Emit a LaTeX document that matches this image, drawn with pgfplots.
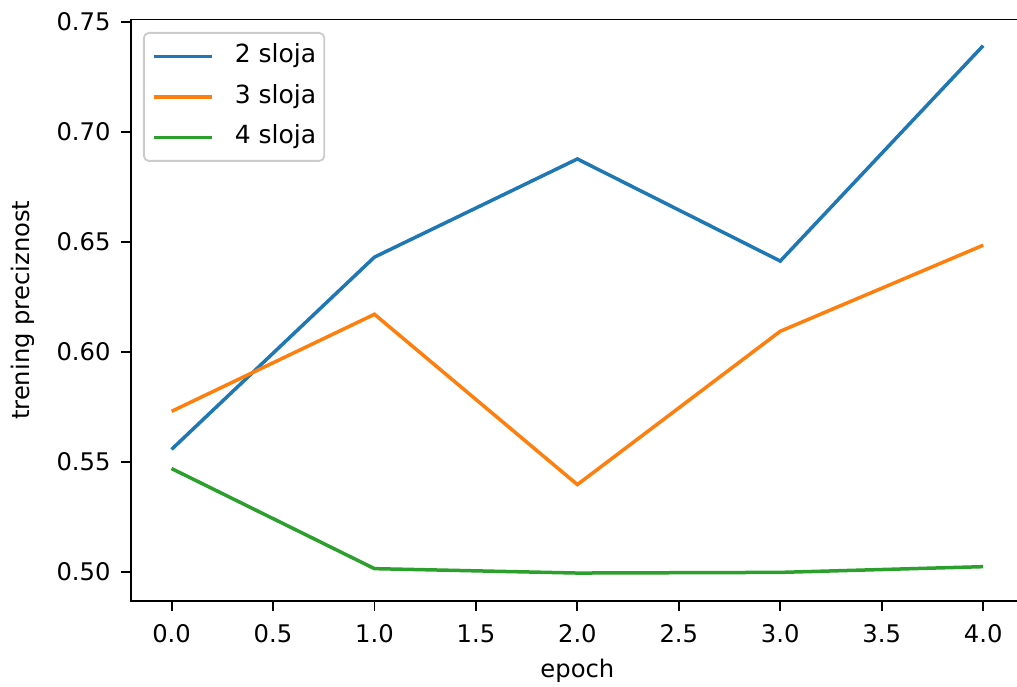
\documentclass[border=0pt]{standalone}
\usepackage{fontspec}
\setmainfont{DejaVu Sans}
\usepackage{pgfplots}
\pgfplotsset{compat=1.18}
\definecolor{tabblue}{HTML}{1F77B4}
\definecolor{taborange}{HTML}{FF7F0E}
\definecolor{tabgreen}{HTML}{2CA02C}
\begin{document}
\begin{tikzpicture}
\begin{axis}[
  name=ax,
  scale only axis,
  width=357.1pt, height=232.6pt,
  xmin=-0.2, xmax=4.2,
  ymin=0.4867, ymax=0.751,
  xtick={0,0.5,1,1.5,2,2.5,3,3.5,4},
  ytick={0.50,0.55,0.60,0.65,0.70,0.75},
  xticklabel style={/pgf/number format/fixed, /pgf/number format/fixed zerofill, /pgf/number format/precision=1},
  yticklabel style={/pgf/number format/fixed, /pgf/number format/fixed zerofill, /pgf/number format/precision=2},
  /pgf/number format/assume math mode=true,
  tick pos=left,
  tick align=outside,
  major tick length=4pt,
  every tick/.style={black, line width=0.75pt},
  axis line style={line width=0.75pt},
  ticklabel style={font=\fontsize{9.7}{12}\selectfont, inner sep=0pt},
  xticklabel style={anchor=north, yshift=-5.4pt},
  yticklabel style={anchor=east, xshift=-4.0pt},
  xlabel={epoch},
  ylabel={trening preciznost},
  label style={font=\fontsize{9.7}{12}\selectfont, inner sep=0pt},
  xlabel style={at={(axis description cs:0.5,0)}, anchor=base, yshift=-30.8pt},
  ylabel style={at={(axis description cs:0,0.5)}, anchor=south, yshift=38.4pt},
  legend cell align=left,
  legend style={
    at={(axis description cs:0.0134,0.9785)}, anchor=north west,
    draw=black!20, line width=0.75pt, rounded corners=2pt, fill=white,
    font=\fontsize{10}{12}\selectfont,
    inner xsep=3.2pt, inner ysep=4.4pt,
    row sep=6.2pt, column sep=8.6pt,
    nodes={inner sep=0pt, text height=7.6pt, text depth=2.4pt},
  },
  legend image code/.code={\draw[#1, line width=1.4pt] (0pt,0pt) -- (23.2pt,0pt);},
]
\addplot[tabblue, line width=1.4pt] coordinates {(0,0.5556) (1,0.6430) (2,0.6876) (3,0.6412) (4,0.7391)};
\addlegendentry{2 sloja}
\addplot[taborange, line width=1.4pt] coordinates {(0,0.5729) (1,0.6170) (2,0.5396) (3,0.6093) (4,0.6484)};
\addlegendentry{3 sloja}
\addplot[tabgreen, line width=1.4pt] coordinates {(0,0.5469) (1,0.5014) (2,0.4994) (3,0.4997) (4,0.5023)};
\addlegendentry{4 sloja}
\end{axis}
\pgfresetboundingbox
\path[use as bounding box] ([xshift=-52.4pt,yshift=-34.4pt]ax.south west) rectangle ([xshift=354.4pt,yshift=7.8pt]ax.north west);
\end{tikzpicture}
\end{document}
